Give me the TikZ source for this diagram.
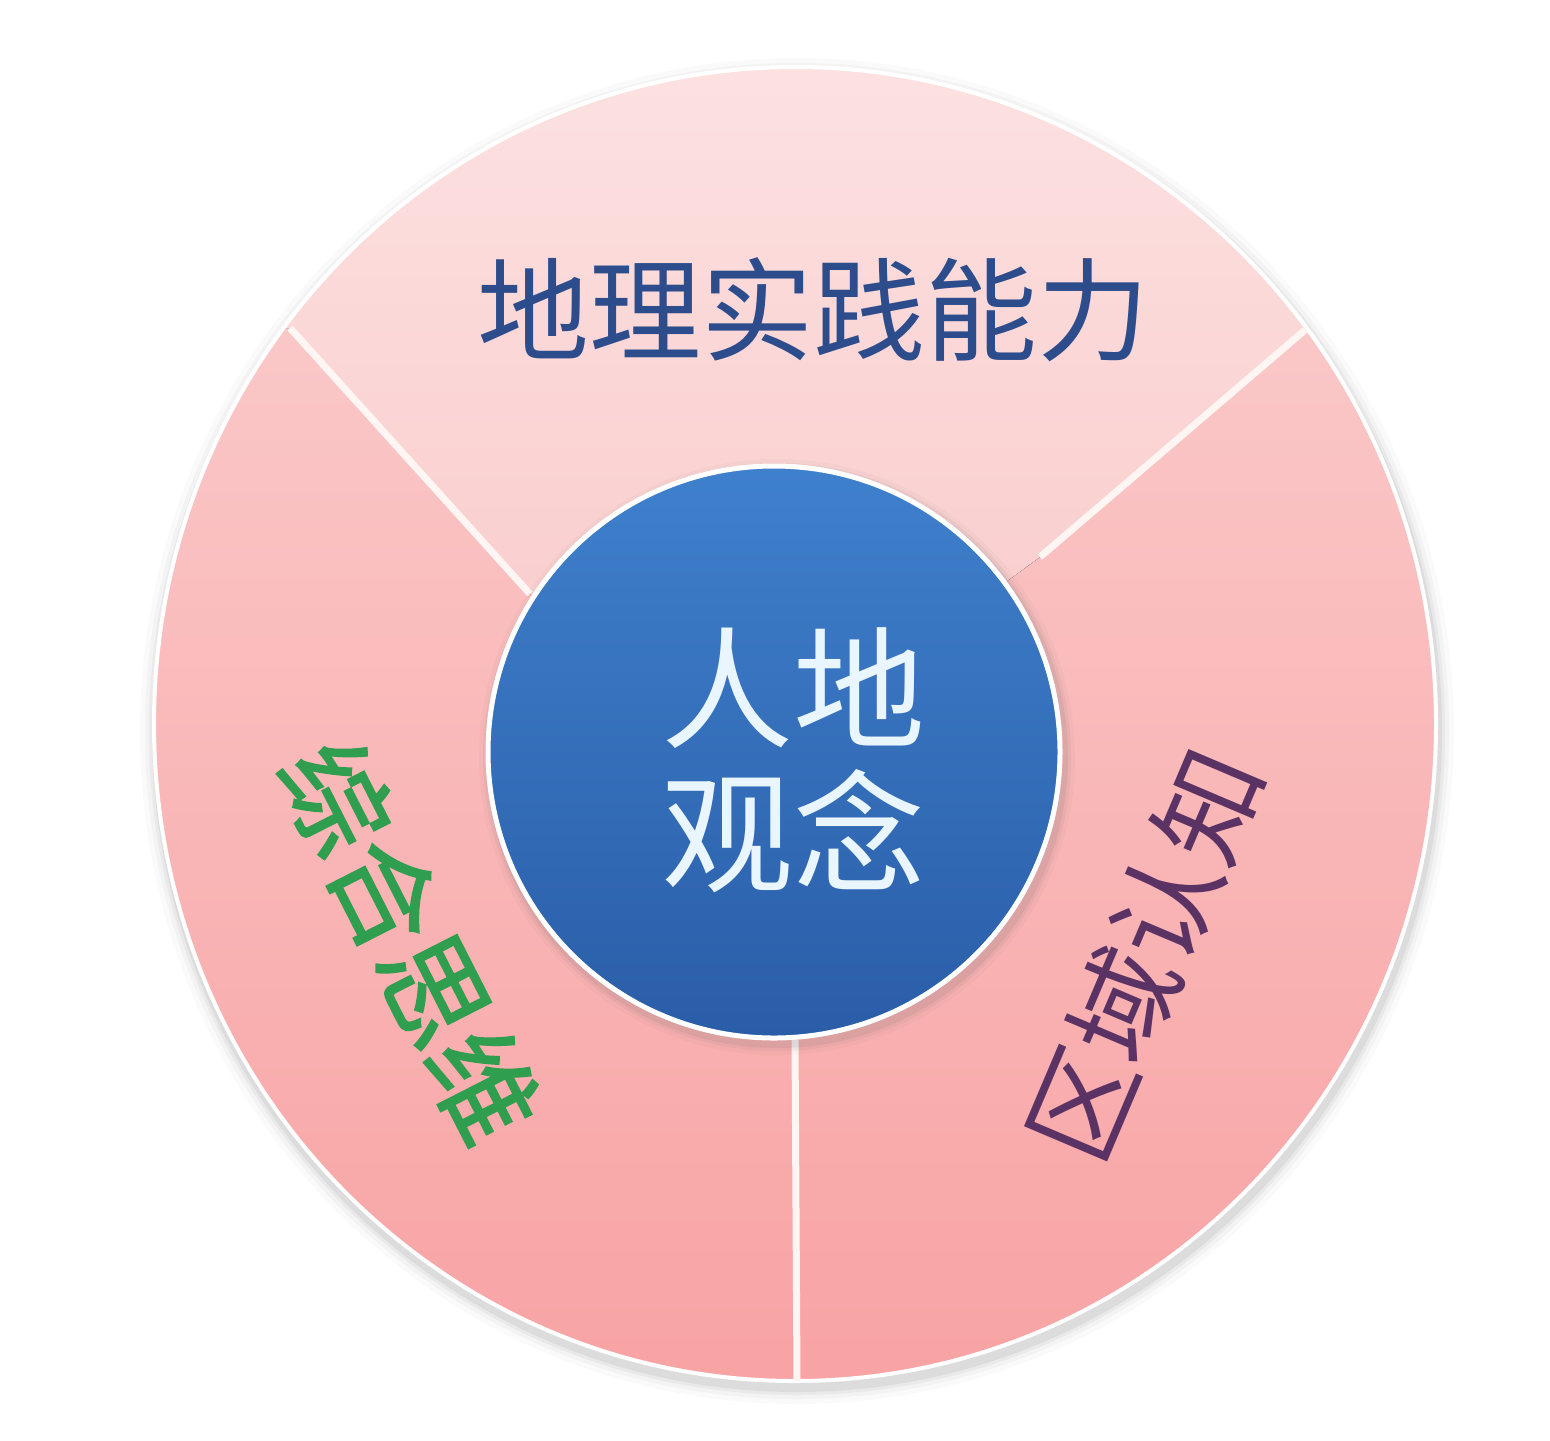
\documentclass[tikz,border=0pt]{standalone}
\usepackage{fontspec}
\newfontfamily\cjk{Noto Sans CJK SC}
\newfontfamily\cjkfb[FakeBold=1.5]{Noto Sans CJK SC}
\definecolor{sideTop}{HTML}{FBD0D0}
\definecolor{sideBot}{HTML}{F8A3A4}
\definecolor{topTop}{HTML}{FDE3E3}
\definecolor{topBot}{HTML}{F9C9C9}
\definecolor{blueTop}{HTML}{3F80CC}
\definecolor{blueBot}{HTML}{2A5DA8}
\definecolor{titleBlue}{HTML}{2D4C8C}
\definecolor{coreText}{HTML}{EAF6FF}
\definecolor{greenText}{HTML}{2F9E4E}
\definecolor{purpleText}{HTML}{5A3364}
\definecolor{divWhite}{HTML}{FFF6F4}
\tikzset{
  divider/.style={draw=divWhite,line width=3.5pt},
  label/.style={inner sep=0pt,font=\cjk\fontsize{54}{60}\selectfont},
}
\begin{document}
\begin{tikzpicture}[x=0.5pt,y=-0.5pt]
\useasboundingbox (0,0) rectangle (1550,1440);
\fill[white] (0,0) rectangle (1550,1440);
\coordinate (O) at (795,724);
% soft shadow
\foreach \r/\o in {16/0.03,11/0.05,7/0.07,4/0.10} {
  \fill[black!55,opacity=\o] (797,731) ellipse [x radius=641+\r, y radius=657+\r];
}
% outer disk
\fill[top color=sideTop,bottom color=sideBot] (O) ellipse [x radius=641, y radius=657];
% top segment, lighter
\begin{scope}
  \clip (O) ellipse [x radius=641, y radius=657];
  \fill[top color=topTop,bottom color=topBot]
    (290,328) -- (530,594) -- (774,752) -- (1040,557) -- (1305,330)
    -- (1600,330) -- (1600,0) -- (0,0) -- (0,328) -- cycle;
\end{scope}
\draw[white,line width=2pt] (O) ellipse [x radius=641, y radius=657];
% dividers
\coordinate (L1) at (290,328);
\coordinate (L2) at (530,594);
\coordinate (R1) at (1305,330);
\coordinate (R2) at (1040,557);
\coordinate (B1) at (797,1381);
\coordinate (B2) at (795,1040);
\draw[divider] (L1) -- (L2);
\draw[divider] (R1) -- (R2);
\draw[divider] (B1) -- (B2);
% core circle
\foreach \r/\o in {10/0.04,6/0.07,3/0.10} {
  \fill[black!60,opacity=\o] (777,757) circle [radius=288+\r];
}
\node[circle,draw=white,line width=2.5pt,top color=blueTop,bottom color=blueBot,
      minimum size=286pt,inner sep=0pt] (core) at (774,752) {};
\node[inner sep=0pt,align=center,text=coreText,
      font=\cjk\fontsize{66}{72}\selectfont] (coretext) at (793,760) {人地\\观念};
% labels
\node[label,text=titleBlue,font=\cjk\fontsize{56}{60}\selectfont] (practice) at (813,310) {地理实践能力};
\node[label,text=greenText,font=\cjkfb\fontsize{54}{60}\selectfont,rotate=-63] (synth) at (410,941) {综合思维};
\node[label,text=purpleText,rotate=67] (region) at (1145,955) {区域认知};
\end{tikzpicture}
\end{document}
